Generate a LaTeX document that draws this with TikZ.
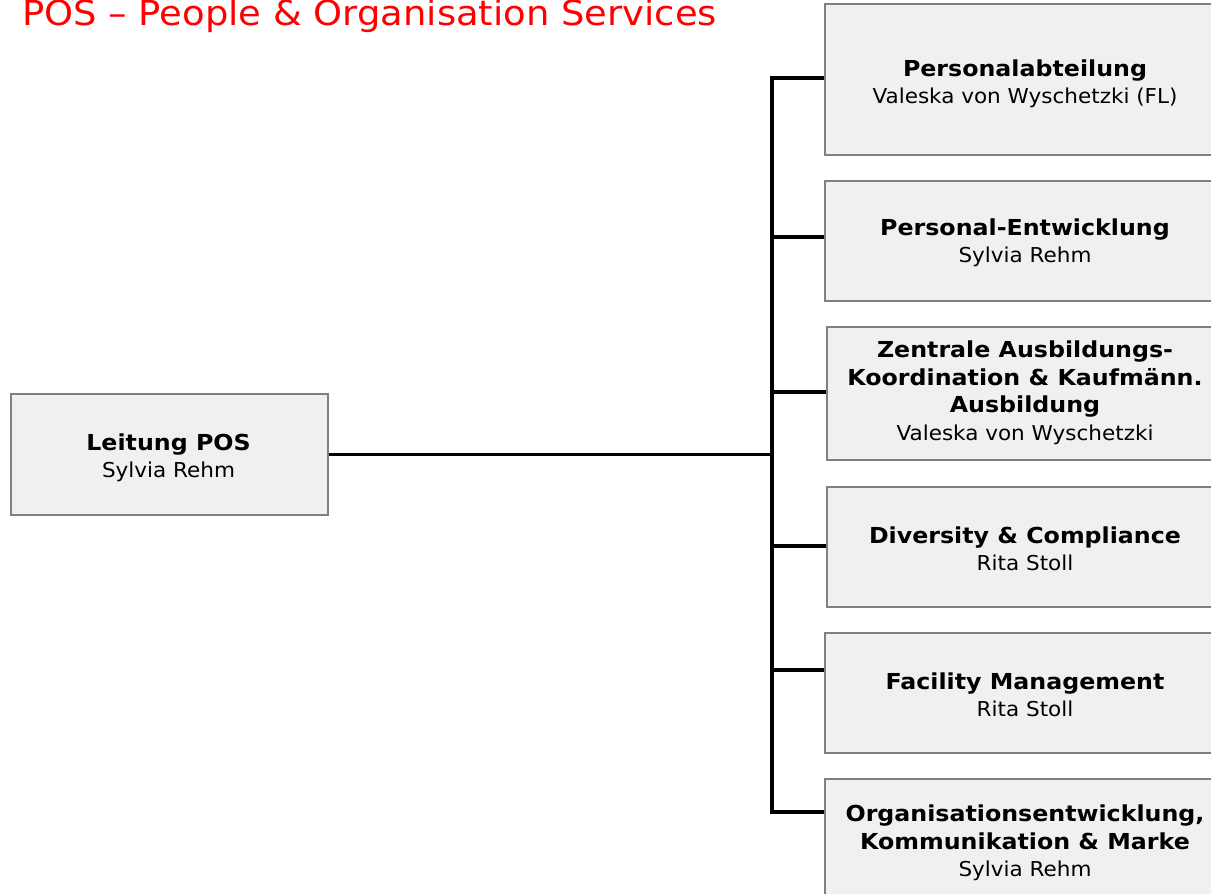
\documentclass[tikz,border=0pt]{standalone}
\usepackage{fontspec}
\setmainfont{DejaVu Sans}
\newfontface\regf{DejaVu Sans}[FakeStretch=1.05]
\newfontface\boldf{DejaVu Sans Bold}[FakeStretch=1.078]
\newfontface\titlef{DejaVu Sans}[FakeStretch=1.07]
\definecolor{boxfill}{HTML}{F0F0F0}
\definecolor{boxline}{HTML}{808080}
\tikzset{
  box/.style={draw=boxline, fill=boxfill, line width=1.5pt, inner sep=0pt, anchor=north west, rectangle},
  lbl/.style={align=center, inner sep=0pt, font=\regf\fontsize{20.5}{27.5}\selectfont},
  conn/.style={draw=black, line width=3.2pt}
}
\newcommand{\hdl}[1]{{\boldf\fontsize{22}{28}\selectfont #1}}
\begin{document}
\begin{tikzpicture}[x=1pt,y=-1pt]
\useasboundingbox (0,0) rectangle (1211,894);
\clip (0,0) rectangle (1211,894);
\fill[white] (0,0) rectangle (1211,894);

\node[anchor=base west, inner sep=0pt, text={rgb,255:red,255;green,0;blue,0}, font=\titlef\fontsize{34.5}{40}\selectfont] (title) at (22,25) {POS – People \& Organisation Services};

% boxes
\node[box, minimum width=317pt, minimum height=121pt] (L) at (10,393) {};
\node[box, minimum width=402pt, minimum height=151pt] (b1) at (824,3) {};
\node[box, minimum width=402pt, minimum height=120pt] (b2) at (824,180) {};
\node[box, minimum width=400pt, minimum height=133pt] (b3) at (826,326) {};
\node[box, minimum width=400pt, minimum height=120pt] (b4) at (826,486) {};
\node[box, minimum width=402pt, minimum height=120pt] (b5) at (824,632) {};
\node[box, minimum width=402pt, minimum height=132pt] (b6) at (824,778) {};

% labels
\node[lbl] (Lt) at (168.5,458) {\hdl{Leitung POS}\\Sylvia Rehm};
\node[lbl] (b1t) at (1025,84) {\hdl{Personalabteilung}\\Valeska von Wyschetzki (FL)};
\node[lbl] (b2t) at (1025,243) {\hdl{Personal-Entwicklung}\\Sylvia Rehm};
\node[lbl] (b3t) at (1025,393) {\hdl{Zentrale Ausbildungs-}\\\hdl{Koordination \& Kaufmänn.}\\\hdl{Ausbildung}\\Valeska von Wyschetzki};
\node[lbl] (b4t) at (1025,549) {\hdl{Diversity \& Compliance}\\Rita Stoll};
\node[lbl] (b5t) at (1025,695) {\hdl{Facility Management}\\Rita Stoll};
\node[lbl] (b6t) at (1025,843) {\hdl{Organisationsentwicklung,}\\\hdl{Kommunikation \& Marke}\\Sylvia Rehm};

% connectors
\coordinate (tt) at (772,78);
\coordinate (tb) at (772,812);
\coordinate (j2) at (772,237);
\coordinate (j3) at (772,392);
\coordinate (j4) at (772,546);
\coordinate (j5) at (772,670);
\path[conn] (tt -| b1.west) -- (tt) -- (tb) -- (tb -| b6.west);
\path[conn] (L.east) -- (L.east -| tt);
\path[conn] (j2) -- (j2 -| b2.west);
\path[conn] (j3) -- (j3 -| b3.west);
\path[conn] (j4) -- (j4 -| b4.west);
\path[conn] (j5) -- (j5 -| b5.west);
\end{tikzpicture}
\end{document}
